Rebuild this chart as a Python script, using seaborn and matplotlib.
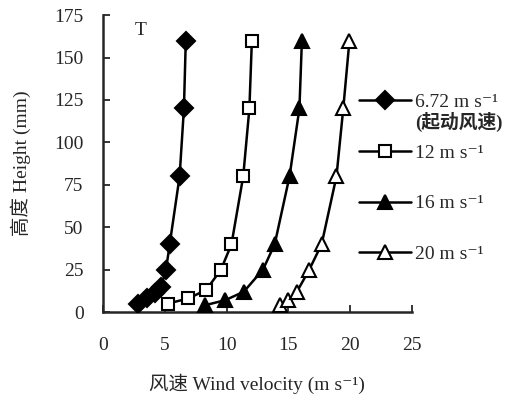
import matplotlib
matplotlib.use("Agg")
import matplotlib.pyplot as plt
import pandas as pd
import seaborn as sns

# data
h_672 = [5, 8, 11, 15, 25, 40, 80, 120, 160]
v_672 = [2.8, 3.55, 4.2, 4.7, 5.1, 5.4, 6.2, 6.55, 6.7]
h_12 = [5, 8, 13, 25, 40, 80, 120, 160]
v_12 = [5.25, 6.9, 8.35, 9.55, 10.4, 11.35, 11.85, 12.05]
h_16 = [4, 7, 12, 25, 40, 80, 120, 160]
v_16 = [8.25, 9.9, 11.4, 12.95, 13.9, 15.1, 15.9, 16.1]
h_20 = [4, 7, 12, 25, 40, 80, 120, 160]
v_20 = [14.3, 15.0, 15.7, 16.7, 17.7, 18.9, 19.45, 19.95]

labels = ["6.72 m s⁻¹", "12 m s⁻¹", "16 m s⁻¹", "20 m s⁻¹"]
markers = ["D", "s", "^", "^"]
faces = ["black", "white", "black", "white"]
sizes = [9, 9, 10, 10]

sns.set_style("ticks")
plt.rcParams["font.family"] = ["Liberation Serif", "Noto Sans CJK SC", "DejaVu Sans"]

fig = plt.figure(figsize=(5.19, 3.98), dpi=100)
ax = fig.add_axes([0.1985, 0.216, 0.595, 0.746])

series = [(v_672, h_672), (v_12, h_12), (v_16, h_16), (v_20, h_20)]
for (v, h), lab, m, fc, ms in zip(series, labels, markers, faces, sizes):
    df = pd.DataFrame({"v": v, "h": h})
    sns.lineplot(data=df, x="v", y="h", ax=ax, color="black", lw=1.8,
                 marker=m, markersize=ms, markerfacecolor=fc,
                 markeredgecolor="black", markeredgewidth=1.5,
                 label=lab, sort=False, zorder=3)

ax.set_xlim(0, 25)
ax.set_ylim(0, 175)
ax.set_xticks([0, 5, 10, 15, 20, 25])
ax.set_yticks([0, 25, 50, 75, 100, 125, 150, 175])
ax.tick_params(axis="both", direction="in", labelsize=14, width=1.3, length=5)
ax.tick_params(axis="x", pad=18)
ax.tick_params(axis="y", pad=14)
for s in ["left", "bottom"]:
    ax.spines[s].set_linewidth(1.8)
sns.despine(ax=ax)

ax.set_xlabel("风速 Wind velocity (m s⁻¹)", fontsize=14, labelpad=14)
ax.set_ylabel("高度 Height (mm)", fontsize=14, labelpad=17)
ax.text(2.6, 163, "T", fontsize=14)

leg = ax.legend(loc="upper left", bbox_to_anchor=(0.684, 0.775),
                bbox_transform=fig.transFigure, frameon=True, fontsize=14,
                handlelength=2.7, handletextpad=0.2, labelspacing=1.7,
                borderpad=0.2, borderaxespad=0)
leg.get_frame().set_facecolor("white")
leg.get_frame().set_edgecolor("white")
leg.get_frame().set_alpha(1)
leg.set_zorder(5)

# second line of the first legend entry
fig.canvas.draw()
t0 = leg.get_texts()[0]
bb = t0.get_window_extent().transformed(fig.transFigure.inverted())
fig.text(bb.x0, bb.y0 - 0.003, "(起动风速)", fontsize=13.5, va="top", ha="left",
         fontweight="bold", zorder=6)

fig.savefig("out.png", dpi=100)
